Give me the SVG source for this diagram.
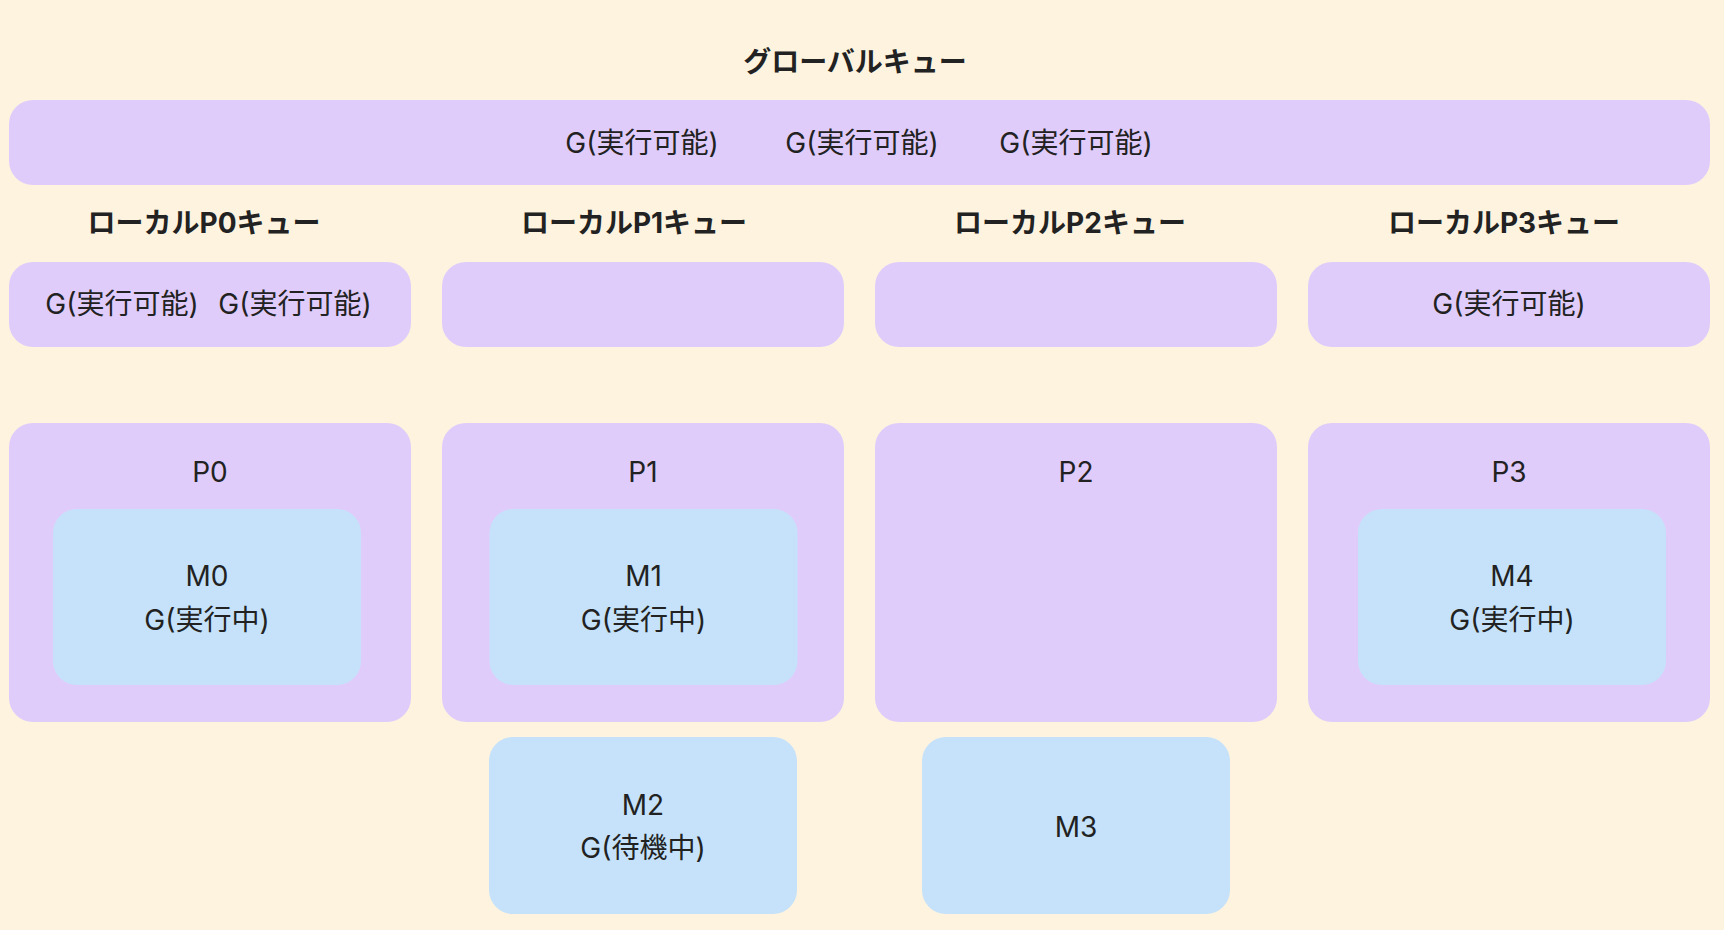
<svg xmlns="http://www.w3.org/2000/svg" width="1724" height="930" viewBox="0 0 1724 930">
<style>
.bg{fill:#fdf3df}
.q{fill:#e0ccfa}
.m{fill:#c5e2fa}
text{font-family:Inter,"Noto Sans CJK JP",sans-serif;font-size:28px;fill:#222;text-anchor:middle;dominant-baseline:central}
.h{font-weight:bold}
</style>
<rect class="bg" x="0" y="0" width="1724" height="930"/>
<g id="global-title"><text class="h" x="855" y="62">グローバルキュー</text></g>
<g id="global-queue">
<rect class="q" x="9" y="100" width="1701" height="85" rx="24"/>
<text x="642" y="143">G(実行可能)</text>
<text x="862" y="143">G(実行可能)</text>
<text x="1076" y="143">G(実行可能)</text>
</g>
<g id="local-p0">
<text class="h" x="204" y="223">ローカルP0キュー</text>
<rect class="q" x="9" y="262" width="402" height="85" rx="24"/>
<text x="122" y="304">G(実行可能)</text>
<text x="295" y="304">G(実行可能)</text>
</g>
<g id="local-p1">
<text class="h" x="634" y="223">ローカルP1キュー</text>
<rect class="q" x="442" y="262" width="402" height="85" rx="24"/>
</g>
<g id="local-p2">
<text class="h" x="1070" y="223">ローカルP2キュー</text>
<rect class="q" x="875" y="262" width="402" height="85" rx="24"/>
</g>
<g id="local-p3">
<text class="h" x="1504" y="223">ローカルP3キュー</text>
<rect class="q" x="1308" y="262" width="402" height="85" rx="24"/>
<text x="1509" y="304">G(実行可能)</text>
</g>
<g id="p0">
<rect class="q" x="9" y="423" width="402" height="299" rx="24"/>
<text x="210" y="472">P0</text>
</g>
<g id="m0">
<rect class="m" x="53" y="509" width="308" height="176" rx="24"/>
<text x="207" y="576">M0</text>
<text x="207" y="620">G(実行中)</text>
</g>
<g id="p1">
<rect class="q" x="442" y="423" width="402" height="299" rx="24"/>
<text x="643" y="472">P1</text>
</g>
<g id="m1">
<rect class="m" x="489.5" y="509" width="308" height="176" rx="24"/>
<text x="643.5" y="576">M1</text>
<text x="643.5" y="620">G(実行中)</text>
</g>
<g id="p2">
<rect class="q" x="875" y="423" width="402" height="299" rx="24"/>
<text x="1076" y="472">P2</text>
</g>
<g id="p3">
<rect class="q" x="1308" y="423" width="402" height="299" rx="24"/>
<text x="1509" y="472">P3</text>
</g>
<g id="m4">
<rect class="m" x="1358" y="509" width="308" height="176" rx="24"/>
<text x="1512" y="576">M4</text>
<text x="1512" y="620">G(実行中)</text>
</g>
<g id="m2">
<rect class="m" x="489" y="737" width="308" height="177" rx="24"/>
<text x="643" y="805">M2</text>
<text x="643" y="848">G(待機中)</text>
</g>
<g id="m3">
<rect class="m" x="922" y="737" width="308" height="177" rx="24"/>
<text x="1076" y="827">M3</text>
</g>
<g id="connectors"></g>
</svg>
